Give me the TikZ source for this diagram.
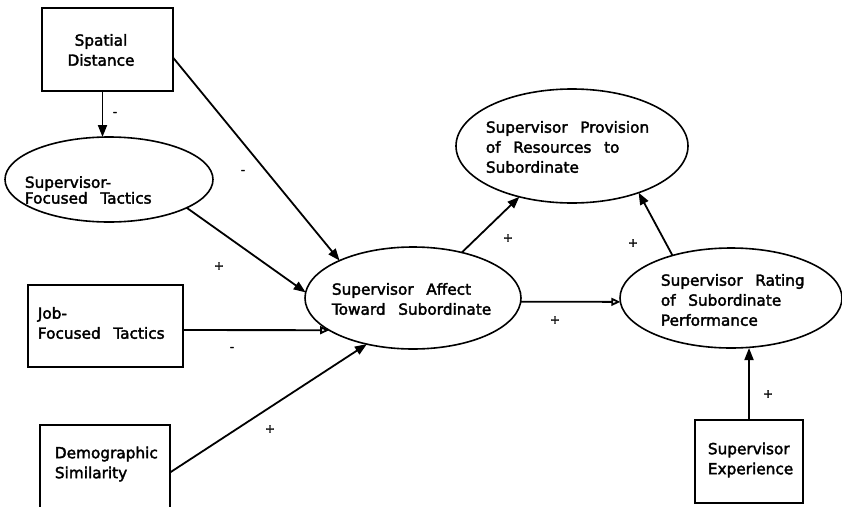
\documentclass[tikz,border=0pt]{standalone}
\usepackage{fontspec}
\setmainfont{DejaVu Sans}[WordSpace=2.6, FakeBold=2.2]
\usetikzlibrary{arrows.meta,shapes.geometric}
\begin{document}
\begin{tikzpicture}[x=1pt,y=-1pt, line width=1.8pt,
 box/.style={draw, rectangle, inner sep=0pt, outer sep=0pt, line width=1.6pt},
 ell/.style={draw, ellipse, inner sep=0pt, outer sep=0pt, line width=1.6pt},
 txt/.style={inner sep=0pt, align=left, font=\fontsize{15.3}{20}\selectfont},
 sgn/.style={inner sep=0pt, font=\fontsize{12}{12}\selectfont},
 arr/.style={-{Triangle[length=12pt,width=9pt]}},
 oarr/.style={-{Triangle[open,length=9pt,width=8pt]}}]
\clip (0,0) rectangle (842,506);
% boxes and ellipses
\node[box, minimum width=131pt, minimum height=83pt] (sd) at (107.5,49.5) {};
\node[txt, align=center] (sdt) at (101,50) {Spatial\\Distance};
\node[ell, minimum width=208pt, minimum height=85pt] (sft) at (109,179.5) {};
\node[txt, font=\fontsize{15.3}{14}\selectfont, anchor=west] (sftt) at (24,190) {Supervisor-\\Focused Tactics};
\node[box, minimum width=155pt, minimum height=82pt] (job) at (105.5,326) {};
\node[txt, anchor=west] (jobt) at (37,323) {Job-\\Focused Tactics};
\node[box, minimum width=130pt, minimum height=95pt] (demo) at (105,472.5) {};
\node[txt, anchor=west] (demot) at (54,464) {Demographic\\Similarity};
\node[ell, minimum width=216pt, minimum height=102pt] (aff) at (413,298) {};
\node[txt, anchor=west] (afft) at (331,299) {Supervisor Affect\\Toward Subordinate};
\node[ell, minimum width=232pt, minimum height=114pt] (res) at (572,146) {};
\node[txt, anchor=west] (rest) at (485,147) {Supervisor Provision\\of Resources to\\Subordinate};
\node[ell, minimum width=222pt, minimum height=100pt] (rat) at (731,298) {};
\node[txt, anchor=west] (ratt) at (660,300) {Supervisor Rating\\of Subordinate\\Performance};
\node[box, minimum width=108pt, minimum height=83pt] (exp) at (749,461.5) {};
\node[txt, anchor=west] (expt) at (707,460) {Supervisor\\Experience};
% connectors
\draw[arr] ([xshift=-5pt]sd.south) -- ([xshift=-5pt]sd.south |- sft.north);
\draw[arr] (sd.-7) -- (aff.153);
\draw[arr] (sft.-20) -- (aff.177);
\draw[oarr] (job.-3) -- (aff.201);
\draw[arr] (demo.east) -- (aff.225);
\draw[arr] (aff.43) -- (res.224);
\draw[oarr] (aff.-2) -- (rat.182);
\draw[arr] (rat.144) -- (res.-35);
\draw[arr] (exp.north) -- (exp.north |- rat.south);
% signs
\node[sgn] (s1) at (115,114) {-};
\node[sgn] (s2) at (243,172) {-};
\node[sgn] (s3) at (219,266) {+};
\node[sgn] (s4) at (232,349) {-};
\node[sgn] (s5) at (270,429) {+};
\node[sgn] (s6) at (508,238) {+};
\node[sgn] (s7) at (555,320) {+};
\node[sgn] (s8) at (633,243) {+};
\node[sgn] (s9) at (768,394) {+};
\end{tikzpicture}
\end{document}
